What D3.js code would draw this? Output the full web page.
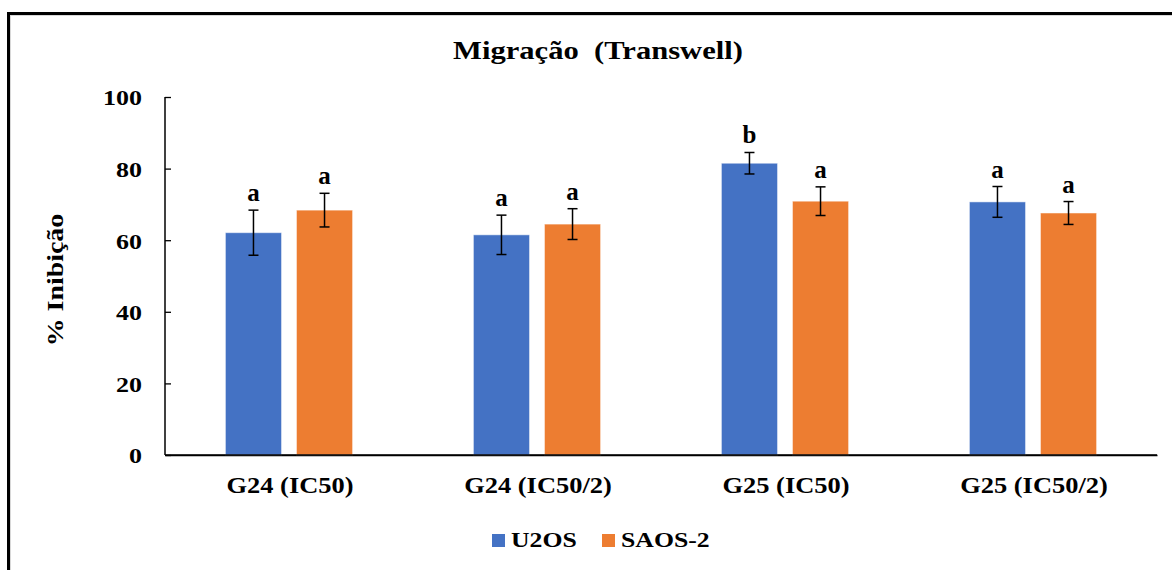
<!DOCTYPE html>
<html>
<head>
<meta charset="utf-8">
<script src="https://cdn.jsdelivr.net/npm/d3@7"></script>
<style>
  html, body { margin: 0; padding: 0; background: #fff; }
  svg { display: block; }
  text { font-family: "Liberation Serif", "Times New Roman", serif; font-weight: bold; fill: #000; }
</style>
</head>
<body>
<svg id="chart" width="1172" height="570"></svg>
<script>
const categories = ["G24 (IC50)", "G24 (IC50/2)", "G25 (IC50)", "G25 (IC50/2)"];
const seriesNames = ["U2OS", "SAOS-2"];
const u2osValues = [62.1, 61.5, 81.5, 70.7];
const saos2Values = [68.4, 64.5, 70.9, 67.6];
const u2osErrors = [6.3, 5.5, 3.0, 4.3];
const saos2Errors = [4.7, 4.3, 4.0, 3.2];
const u2osLetters = ["a", "a", "b", "a"];
const saos2Letters = ["a", "a", "a", "a"];
const yTicks = [0, 20, 40, 60, 80, 100];
const colors = ["#4472C4", "#ED7D31"];

(function () {
const svg = d3.select("#chart");

// outer frame
svg.append("rect").attr("x", 10.5).attr("y", 15.5).attr("width", 1300).attr("height", 700)
  .attr("fill", "none").attr("stroke", "#d8d8d8").attr("stroke-width", 1);
svg.append("rect").attr("x", 8.5).attr("y", 13.5).attr("width", 1300).attr("height", 700)
  .attr("fill", "none").attr("stroke", "#000").attr("stroke-width", 3);

const pLeft = 165, pRight = 1157, pTop = 97, pBottom = 455;
const x0 = d3.scaleBand().domain(categories).range([pLeft, pRight]).padding(0);
const x1 = d3.scaleBand().domain(seriesNames).range([0, x0.bandwidth()]).paddingInner(0.21).paddingOuter(0.85);
const y = d3.scaleLinear().domain([0, 100]).range([pBottom, pTop]);

// title
svg.append("text").attr("transform", `translate(598,59) scale(1.19,1)`).attr("text-anchor", "middle")
  .attr("font-size", 25.7).style("white-space", "pre").attr("xml:space", "preserve")
  .text("Migração  (Transwell)");

// y axis
const yAxis = d3.axisLeft(y).tickValues(yTicks).tickSize(-6).tickPadding(0).tickFormat(d3.format("d"));
const gy = svg.append("g").attr("transform", `translate(${pLeft},0)`).call(yAxis);
gy.select(".domain").attr("stroke", "#000").attr("stroke-width", 1.5).attr("d", `M0,${pTop}V${pBottom}`);
gy.selectAll(".tick line").attr("stroke", "#000").attr("stroke-width", 1.3);
gy.selectAll(".tick text").each(function() {
  d3.select(this).attr("x", null).attr("dy", null).attr("font-size", 22)
    .attr("font-family", "Liberation Serif").attr("font-weight", "bold").attr("fill", "#000")
    .attr("text-anchor", "end")
    .attr("transform", `translate(-23,7.8) scale(1.18,1)`);
});

// x axis
const xAxis = d3.axisBottom(x0).tickSize(0).tickPadding(0);
const gx = svg.append("g").attr("transform", `translate(0,${pBottom})`).call(xAxis);
gx.select(".domain").attr("stroke", "#000").attr("stroke-width", 1.5);
gx.selectAll(".tick text").each(function() {
  d3.select(this).attr("y", null).attr("dy", null).attr("font-size", 23)
    .attr("font-family", "Liberation Serif").attr("font-weight", "bold").attr("fill", "#000")
    .attr("transform", `translate(1,38) scale(1.15,1)`);
});

// y label
svg.append("text").attr("transform", `translate(63,280) rotate(-90) scale(1.24,1)`)
  .attr("text-anchor", "middle").attr("font-size", 22.5).text("% Inibição");

// bars
const data = categories.map((c, i) => ({
  cat: c,
  vals: [
    { s: seriesNames[0], v: u2osValues[i], e: u2osErrors[i], l: u2osLetters[i], c: colors[0] },
    { s: seriesNames[1], v: saos2Values[i], e: saos2Errors[i], l: saos2Letters[i], c: colors[1] }
  ]
}));

const groups = svg.append("g").selectAll("g").data(data).join("g")
  .attr("transform", d => `translate(${x0(d.cat)},0)`);

groups.selectAll("rect").data(d => d.vals).join("rect")
  .attr("x", d => x1(d.s)).attr("width", x1.bandwidth())
  .attr("y", d => y(d.v)).attr("height", d => y(0) - y(d.v))
  .attr("fill", d => d.c).attr("stroke", "#fff").attr("stroke-opacity", 0.5).attr("stroke-width", 1);

// redraw x axis line above bars
svg.append("line").attr("x1", pLeft).attr("x2", pRight).attr("y1", pBottom).attr("y2", pBottom)
  .attr("stroke", "#000").attr("stroke-width", 1.5);

// error bars
const eb = groups.selectAll("g.err").data(d => d.vals).join("g").attr("class", "err")
  .attr("transform", d => `translate(${x1(d.s) + x1.bandwidth() / 2},0)`);
eb.append("line").attr("x1", 0).attr("x2", 0).attr("y1", d => y(d.v + d.e)).attr("y2", d => y(d.v - d.e))
  .attr("stroke", "#000").attr("stroke-width", 1.5);
eb.append("line").attr("x1", -5).attr("x2", 5).attr("y1", d => y(d.v + d.e)).attr("y2", d => y(d.v + d.e))
  .attr("stroke", "#000").attr("stroke-width", 1.5);
eb.append("line").attr("x1", -5).attr("x2", 5).attr("y1", d => y(d.v - d.e)).attr("y2", d => y(d.v - d.e))
  .attr("stroke", "#000").attr("stroke-width", 1.5);
eb.append("text").attr("text-anchor", "middle").attr("font-size", 24.5)
  .attr("transform", d => `translate(0,${y(d.v + d.e) - 9}) scale(1.02,1)`)
  .text(d => d.l);

// legend
const legendItems = [
  { name: seriesNames[0], c: colors[0], x: 492 },
  { name: seriesNames[1], c: colors[1], x: 602 }
];
const lg = svg.append("g").selectAll("g").data(legendItems).join("g");
lg.append("rect").attr("x", d => d.x).attr("y", 534).attr("width", 13).attr("height", 13).attr("fill", d => d.c);
lg.append("text").attr("font-size", 22)
  .attr("transform", d => `translate(${d.x + 19},547) scale(1.17,1)`).text(d => d.name);
})();
</script>
</body>
</html>
